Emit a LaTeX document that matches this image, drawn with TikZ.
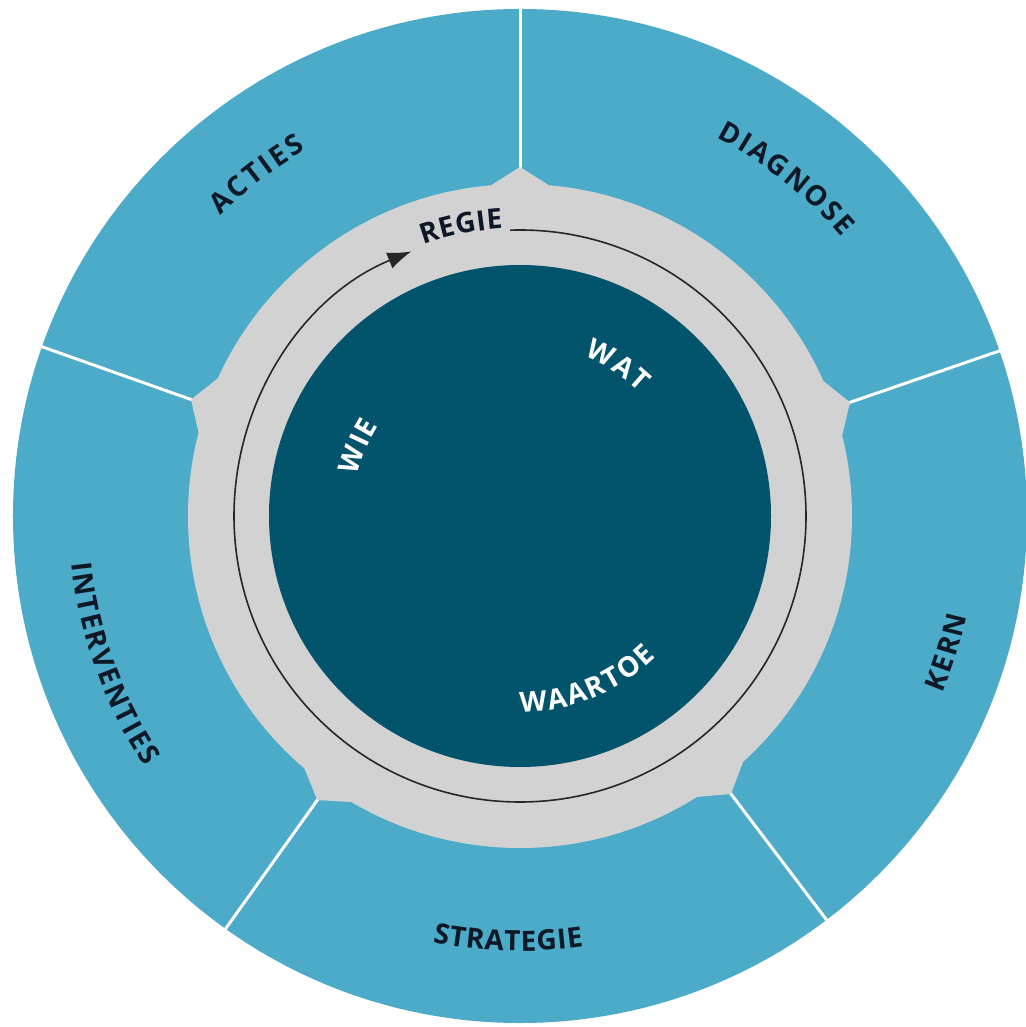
\documentclass[tikz,border=0pt]{standalone}
\usepackage{fontspec}
\newfontfamily\labfont{Open Sans}
\usetikzlibrary{decorations.text, arrows.meta}
\definecolor{segblue}{HTML}{4BABC9}
\definecolor{darkcore}{HTML}{02546D}
\definecolor{ringgray}{HTML}{D2D2D2}
\definecolor{labink}{HTML}{0E1826}
\newcommand\labfmt{\labfont\bfseries\fontsize{28}{32}\selectfont}
\tikzset{
  outlabel/.style={decorate, decoration={text along path, text align=fit to path, text color=labink, text={|\labfmt|#1}}},
  inlabel/.style={decorate, decoration={text along path, text align=fit to path, text color=white, text={|\labfmt|#1}}},
  divider/.style={white, line width=3pt},
}
\begin{document}
\begin{tikzpicture}[x=1pt, y=1pt]
\useasboundingbox[fill=white] (-520,-511) rectangle (505,516);
% outer disc
\fill[segblue] (0,0) circle[radius=507];
% dividers and ring bumps
\foreach \a in {90,19,-52.8,-125.5,160.5} {
  \draw[divider] ({\a}:340) -- ({\a}:512);
}
\fill[ringgray] (0,0) circle[radius=332];
\foreach \a in {90,19,-52.8,-125.5,160.5} {
  \fill[ringgray] ({\a-5}:318) -- ({\a-5}:332) -- ({\a}:349) -- ({\a+5}:332) -- ({\a+5}:318) -- cycle;
}
% thin circular arrow
\draw[line width=1.6pt, color=black!85, -{Latex[length=24pt,width=17pt]}]
  (92:286) arc[start angle=92, end angle=-247.7, radius=286];
% core
\fill[darkcore] (0,0) circle[radius=251];
% segment labels
\path[outlabel={ACTIES}] (134.9:424) arc[start angle=134.9, end angle=120.3, radius=424];
\path[outlabel={DIAGNOSE}] (62.6:426) arc[start angle=62.6, end angle=40.9, radius=426];
\path[outlabel={KERN}] (-22.8:458) arc[start angle=-22.8, end angle=-12.6, radius=458];
\path[outlabel={STRATEGIE}] (-101.6:435) arc[start angle=-101.6, end angle=-81.6, radius=435];
\path[outlabel={INTERVENTIES}] (186:451) arc[start angle=186, end angle=213.7, radius=451];
% ring label
\path[outlabel={REGIE}] (109.6:288) arc[start angle=109.6, end angle=93.4, radius=288];
% core labels
\path[inlabel={WAT}] (68.2:172) arc[start angle=68.2, end angle=45.8, radius=172];
\path[inlabel={WIE}] (166:168) arc[start angle=166, end angle=147.5, radius=168];
\path[inlabel={WAARTOE}] (-89.9:196) arc[start angle=-89.9, end angle=-45.9, radius=196];
\end{tikzpicture}
\end{document}
